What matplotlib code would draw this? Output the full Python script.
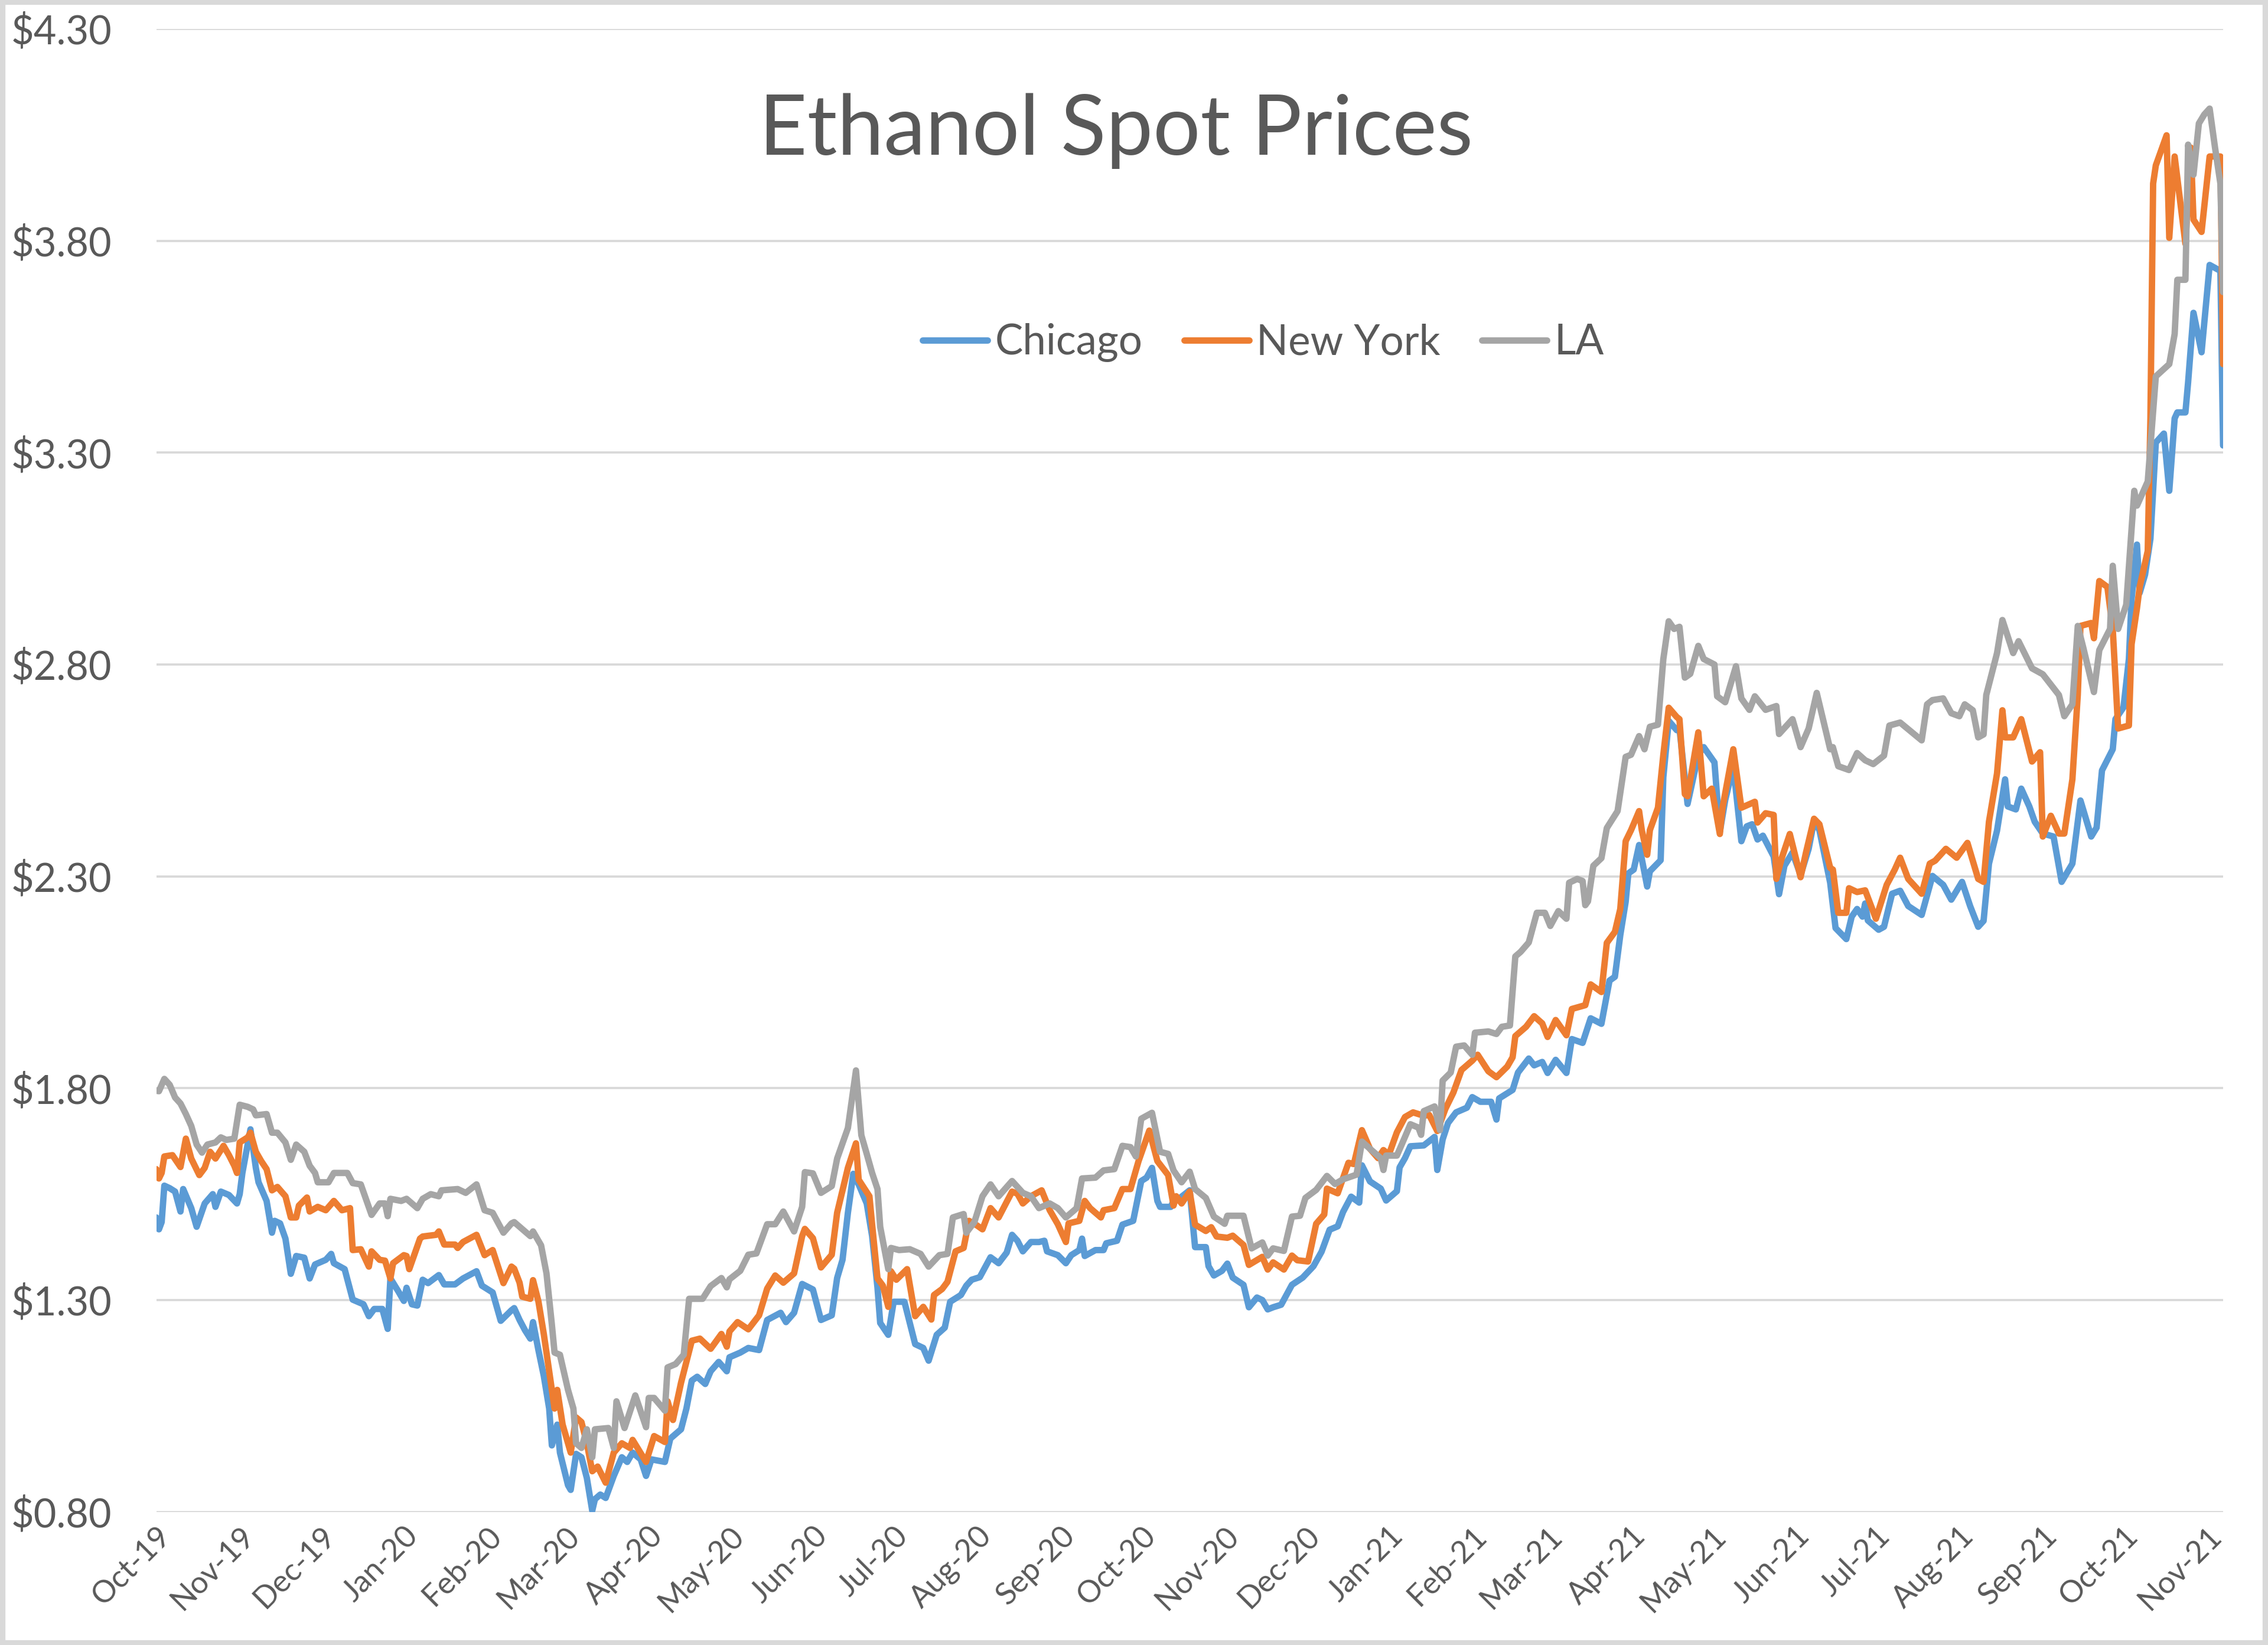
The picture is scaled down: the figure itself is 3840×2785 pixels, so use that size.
import numpy as np
import matplotlib
matplotlib.use("Agg")
import matplotlib.pyplot as plt
import matplotlib.dates as mdates
from matplotlib.patches import Rectangle

plt.rcParams['font.family'] = ['Lato', 'DejaVu Sans']

START = np.datetime64('2019-10-01')

# days after 2019-10-01 and price in $/gal
chicago_days = [0, 1, 2, 3, 5, 7, 9, 10, 13, 15, 18, 21, 22, 24, 27, 30, 31, 32, 35, 37, 38, 41, 43, 44, 46, 48,
                50, 52, 55, 57, 59, 63, 65, 66, 70, 73, 77, 79, 81, 84, 86, 87, 90, 92, 93, 95, 97, 99, 101, 105,
                107, 111, 114, 119, 121, 125, 128, 132,
                133, 135, 137, 139, 140, 142, 144, 146, 147, 149, 150, 153, 154, 156, 158, 160, 162, 163, 165, 167,
                170, 173, 175, 177, 180, 182, 184, 189, 191, 195, 197, 199, 201, 204, 206, 209, 212, 213, 217, 220,
                224, 227, 232, 234, 237, 240, 244, 247, 251, 253,
                255, 257, 259, 261, 264, 266, 268, 269, 272, 274, 278, 282, 285, 287, 290, 293, 295, 299, 301, 303,
                306, 310, 313, 316, 318, 320, 322, 325, 328, 330, 331, 335, 338, 340, 343, 344, 345, 349, 352, 353,
                357, 359, 363, 366, 368, 370, 372, 373, 377, 378, 380, 384,
                386, 390, 391, 393, 396, 398, 400, 404, 406, 409, 411, 413, 415, 418, 422, 426, 430, 433, 436, 439,
                441, 444, 447, 448, 451, 455, 457, 461, 462, 464, 466, 471, 475, 476, 478, 480, 483, 487, 489, 492,
                496, 498, 499, 504, 506, 510, 512, 515,
                517, 520, 524, 526, 530, 533, 537, 540, 542, 544, 546, 547, 549, 551, 554, 555, 559, 560, 562, 565,
                566, 569, 573, 575, 579, 581, 583, 586, 589, 591, 593, 595, 597, 601, 603, 605, 608, 611, 614, 616,
                618, 622, 624, 628, 630, 632, 634, 635, 636,
                640, 642, 645, 648, 651, 656, 660, 664, 667, 671, 674, 677, 679, 681, 684, 687, 688, 691, 693, 696,
                698, 701, 705, 708, 712, 713, 715, 719, 721, 723, 727, 728, 731, 733, 734, 736, 737, 739, 741, 743,
                746, 748, 750, 751, 754, 755, 757, 760, 763, 767, 768]
chicago_price = [1.495, 1.467, 1.484, 1.57, 1.564, 1.556, 1.509, 1.562, 1.517, 1.473, 1.528, 1.55, 1.52, 1.556,
                 1.548, 1.528, 1.55, 1.60, 1.703, 1.612, 1.578, 1.534, 1.459, 1.487, 1.481, 1.445, 1.362, 1.404,
                 1.40, 1.351, 1.384, 1.395, 1.409, 1.387, 1.373, 1.301, 1.29, 1.262, 1.279, 1.279, 1.232, 1.351,
                 1.32, 1.298, 1.329, 1.29, 1.287, 1.348, 1.34, 1.359, 1.337, 1.337, 1.351, 1.368, 1.334, 1.318,
                 1.251, 1.276,
                 1.281, 1.253, 1.229, 1.209, 1.248, 1.182, 1.121, 1.044, 0.957, 1.006, 0.94, 0.863, 0.852, 0.937,
                 0.929, 0.88, 0.803, 0.83, 0.841, 0.833, 0.885, 0.929, 0.918, 0.94, 0.924, 0.885, 0.924, 0.918,
                 0.973, 0.995, 1.044, 1.11, 1.119, 1.102, 1.132, 1.154, 1.132, 1.165, 1.176, 1.187, 1.182, 1.253,
                 1.27, 1.248, 1.27, 1.338, 1.325, 1.253, 1.264, 1.352,
                 1.395, 1.506, 1.598, 1.573, 1.528, 1.451, 1.329, 1.246, 1.218, 1.296, 1.296, 1.196, 1.187, 1.157,
                 1.218, 1.235, 1.296, 1.312, 1.334, 1.348, 1.354, 1.401, 1.387, 1.412, 1.454, 1.44, 1.415, 1.437,
                 1.437, 1.44, 1.415, 1.406, 1.387, 1.406, 1.418, 1.445, 1.404, 1.418, 1.418, 1.434, 1.44, 1.478,
                 1.487, 1.581, 1.589, 1.612, 1.534, 1.52, 1.52, 1.534, 1.539, 1.559,
                 1.425, 1.425, 1.38, 1.358, 1.369, 1.386, 1.353, 1.336, 1.283, 1.306, 1.30, 1.278, 1.283, 1.289,
                 1.336, 1.353, 1.38, 1.414, 1.466, 1.474, 1.508, 1.544, 1.53, 1.618, 1.58, 1.563, 1.535, 1.557,
                 1.613, 1.635, 1.663, 1.665, 1.685, 1.607, 1.679, 1.718, 1.743, 1.754, 1.779, 1.768, 1.768, 1.726,
                 1.776, 1.796, 1.837, 1.87, 1.854, 1.862,
                 1.836, 1.867, 1.836, 1.916, 1.907, 1.965, 1.952, 2.054, 2.063, 2.161, 2.24, 2.307, 2.316, 2.374,
                 2.276, 2.312, 2.338, 2.534, 2.667, 2.645, 2.649, 2.471, 2.587, 2.605, 2.569, 2.405, 2.48, 2.56,
                 2.383, 2.418, 2.423, 2.387, 2.396, 2.347, 2.258, 2.325, 2.356, 2.303, 2.365, 2.431, 2.409, 2.285,
                 2.178, 2.152, 2.205, 2.223, 2.205, 2.236, 2.196,
                 2.174, 2.181, 2.259, 2.266, 2.23, 2.209, 2.301, 2.28, 2.245, 2.287, 2.23, 2.181, 2.195, 2.33,
                 2.408, 2.529, 2.465, 2.458, 2.507, 2.465, 2.429, 2.401, 2.394, 2.287, 2.33, 2.379, 2.479, 2.394,
                 2.415, 2.55, 2.60, 2.671, 2.699, 2.813, 2.955, 3.083, 2.969, 3.012, 3.097, 3.324, 3.345, 3.21,
                 3.381, 3.395, 3.395, 3.466, 3.63, 3.537, 3.743, 3.729, 3.317]

newyork_days = [0, 1, 2, 3, 6, 9, 11, 13, 16, 18, 20, 22, 25, 27, 29, 30, 31, 34, 35, 37, 39, 41, 43, 45, 48, 50,
                52, 53, 56, 57, 60, 63, 66, 69, 72, 73, 76, 79, 80, 83, 85, 87, 88, 92, 93, 94, 98, 99, 104, 105,
                107, 111, 112, 114, 119, 122, 125, 129, 132,
                133, 135, 136, 139, 140, 142, 144, 146, 148, 149, 151, 154, 156, 158, 160, 162, 164, 167, 170, 173,
                176, 177, 182, 185, 189, 190, 192, 195, 199, 202, 206, 210, 212, 213, 216, 220, 224, 227, 230, 233,
                237, 240, 241, 244, 247, 251, 253,
                257, 260, 261, 265, 266, 268, 270, 272, 273, 275, 279, 282, 285, 288, 289, 292, 294, 297, 300, 302,
                305, 307, 310, 313, 318, 320, 322, 325, 329, 332, 335, 338, 339, 343, 345, 347, 351, 352, 356, 359,
                362, 365, 369, 372, 376, 378, 379, 381, 384, 386,
                390, 392, 394, 398, 400, 404, 406, 411, 413, 415, 419, 422, 424, 428, 431, 434, 435, 439, 443, 445,
                448, 451, 454, 456, 458, 461, 464, 467, 471, 473, 476, 479, 482, 485, 489, 491, 495, 498, 502, 504,
                505, 509, 512, 515,
                517, 520, 524, 526, 531, 533, 537, 539, 542, 544, 546, 548, 551, 552, 554, 555, 558, 560, 562, 565,
                566, 568, 569, 573, 575, 578, 581, 582, 586, 589, 594, 595, 598, 601, 602, 604, 607, 611, 613, 616,
                618, 622, 623, 625, 628, 629, 632, 635, 639,
                643, 646, 648, 651, 656, 659, 661, 665, 669, 673, 677, 679, 681, 684, 686, 687, 690, 693, 697, 700,
                701, 704, 707, 709, 712, 714, 715, 719, 720, 722, 725, 727, 729, 733, 734, 736, 737, 740, 741, 742,
                743, 747, 748, 750, 754, 756, 757, 760, 763, 767, 768]
newyork_price = [1.609, 1.587, 1.60, 1.639, 1.642, 1.614, 1.681, 1.634, 1.595, 1.612, 1.65, 1.634, 1.664, 1.642,
                 1.617, 1.60, 1.672, 1.684, 1.695, 1.65, 1.628, 1.609, 1.559, 1.567, 1.545, 1.495, 1.495, 1.523,
                 1.542, 1.509, 1.52, 1.512, 1.534, 1.512, 1.517, 1.418, 1.42, 1.379, 1.415, 1.395, 1.393, 1.351,
                 1.387, 1.406, 1.404, 1.373, 1.445, 1.45, 1.454, 1.462, 1.431, 1.431, 1.423, 1.437, 1.454, 1.406,
                 1.418, 1.34, 1.379,
                 1.374, 1.341, 1.308, 1.303, 1.347, 1.297, 1.22, 1.132, 1.044, 1.088, 1.006, 0.94, 1.023, 1.012,
                 0.962, 0.896, 0.907, 0.869, 0.94, 0.962, 0.951, 0.97, 0.918, 0.979, 0.965, 1.061, 1.017, 1.105,
                 1.204, 1.209, 1.185, 1.22, 1.19, 1.226, 1.248, 1.231, 1.264, 1.327, 1.358, 1.341, 1.363, 1.451,
                 1.468, 1.446, 1.377, 1.407, 1.506,
                 1.612, 1.67, 1.584, 1.545, 1.478, 1.351, 1.334, 1.284, 1.368, 1.348, 1.373, 1.262, 1.284, 1.254,
                 1.312, 1.326, 1.343, 1.415, 1.423, 1.487, 1.476, 1.467, 1.517, 1.495, 1.556, 1.551, 1.528, 1.545,
                 1.559, 1.512, 1.479, 1.437, 1.481, 1.487, 1.534, 1.517, 1.495, 1.512, 1.517, 1.562, 1.562, 1.628,
                 1.70, 1.628, 1.595, 1.523, 1.545, 1.528, 1.556, 1.478,
                 1.463, 1.472, 1.45, 1.447, 1.452, 1.43, 1.383, 1.402, 1.372, 1.389, 1.372, 1.405, 1.394, 1.391,
                 1.48, 1.502, 1.563, 1.552, 1.624, 1.621, 1.701, 1.657, 1.635, 1.654, 1.643, 1.696, 1.732, 1.743,
                 1.735, 1.737, 1.699, 1.751, 1.79, 1.843, 1.865, 1.879, 1.84, 1.826, 1.851, 1.873, 1.923, 1.945,
                 1.97, 1.953,
                 1.921, 1.961, 1.925, 1.987, 1.996, 2.045, 2.027, 2.143, 2.169, 2.223, 2.383, 2.409, 2.454, 2.409,
                 2.351, 2.409, 2.462, 2.587, 2.698, 2.676, 2.671, 2.494, 2.489, 2.64, 2.489, 2.507, 2.40, 2.462,
                 2.60, 2.462, 2.476, 2.427, 2.449, 2.445, 2.294, 2.343, 2.40, 2.298, 2.356, 2.436, 2.423, 2.32,
                 2.316, 2.214, 2.214, 2.272, 2.263, 2.267, 2.20,
                 2.28, 2.316, 2.344, 2.294, 2.259, 2.33, 2.337, 2.365, 2.344, 2.379, 2.294, 2.287, 2.429, 2.543,
                 2.692, 2.628, 2.628, 2.671, 2.571, 2.593, 2.394, 2.443, 2.401, 2.401, 2.529, 2.728, 2.891, 2.898,
                 2.862, 2.997, 2.983, 2.884, 2.649, 2.656, 2.848, 2.933, 2.983, 3.068, 3.381, 3.935, 3.978, 4.049,
                 3.807, 3.999, 3.793, 4.02, 3.85, 3.821, 3.999, 3.999, 3.509]

la_days = [0, 1, 3, 5, 7, 9, 11, 13, 15, 17, 19, 22, 24, 26, 29, 31, 34, 36, 37, 41, 43, 45, 48, 50, 52, 55, 57,
           59, 60, 64, 66, 71, 73, 76, 80, 83, 85, 86, 87, 91, 93, 97, 99, 102, 105, 106, 112, 115, 119, 122, 125,
           129, 132,
           133, 135, 137, 139, 140, 143, 145, 147, 148, 150, 153, 155, 156, 158, 160, 162, 163, 168, 170, 171, 174,
           178, 182, 183, 185, 189, 190, 193, 196, 198, 203, 206, 210, 212, 213, 217, 220, 223, 227, 230, 233, 237,
           240, 241, 244, 247, 251,
           253, 257, 260, 262, 264, 266, 268, 269, 272, 273, 276, 280, 284, 287, 291, 294, 296, 300, 301, 304, 307,
           310, 313, 318, 322, 325, 328, 332, 335, 338, 342, 344, 349, 352, 356, 359, 362, 364, 366, 370, 373, 376,
           378, 381, 384, 386,
           390, 393, 397, 398, 404, 407, 411, 413, 415, 419, 422, 425, 427, 431, 435, 438, 441, 446, 448, 451, 455,
           456, 457, 461, 464, 466, 469, 470, 471, 475, 477, 478, 481, 483, 486, 489, 490, 495, 498, 500, 503, 505,
           507, 510,
           513, 516, 518, 521, 524, 525, 528, 530, 531, 532, 534, 537, 539, 543, 546, 548, 551, 553, 555, 558, 560,
           562, 564, 566, 568, 570, 573, 575, 579, 580, 583, 587, 589, 592, 594, 598, 602, 603, 608, 611, 614, 617,
           622, 623, 625, 629, 632, 635, 638,
           642, 644, 648, 652, 656, 658, 660, 664, 667, 670, 672, 675, 677, 679, 680, 684, 686, 690, 692, 697, 701,
           707, 709, 712, 714, 716, 720, 722, 726, 727, 729, 732, 735, 736, 740, 743, 748, 750, 751, 754, 755, 757,
           759, 761, 763, 765, 767, 768]
la_price = [1.794, 1.793, 1.822, 1.808, 1.778, 1.764, 1.739, 1.711, 1.667, 1.648, 1.667, 1.672, 1.684, 1.678, 1.681,
            1.761, 1.756, 1.75, 1.736, 1.739, 1.695, 1.695, 1.672, 1.631, 1.667, 1.65, 1.617, 1.60, 1.578, 1.578,
            1.60, 1.60, 1.576, 1.573, 1.501, 1.528, 1.528, 1.498, 1.539, 1.534, 1.539, 1.517, 1.539, 1.55, 1.545,
            1.559, 1.562, 1.553, 1.573, 1.512, 1.506, 1.459, 1.481,
            1.484, 1.473, 1.462, 1.451, 1.462, 1.429, 1.363, 1.242, 1.176, 1.171, 1.088, 1.044, 0.962, 0.951, 0.995,
            0.929, 0.995, 0.998, 0.951, 1.061, 0.998, 1.075, 1.0, 1.069, 1.069, 1.039, 1.141, 1.149, 1.171, 1.303,
            1.303, 1.333, 1.352, 1.33, 1.349, 1.369, 1.407, 1.41, 1.479, 1.479, 1.509, 1.462, 1.52, 1.602, 1.599,
            1.553, 1.569,
            1.634, 1.706, 1.842, 1.689, 1.645, 1.60, 1.562, 1.473, 1.373, 1.423, 1.418, 1.42, 1.409, 1.379, 1.406,
            1.409, 1.495, 1.503, 1.459, 1.484, 1.545, 1.573, 1.545, 1.581, 1.553, 1.545, 1.517, 1.528, 1.517, 1.495,
            1.517, 1.587, 1.589, 1.606, 1.609, 1.664, 1.661, 1.639, 1.728, 1.742, 1.65, 1.645, 1.606, 1.578, 1.603,
            1.562,
            1.541, 1.497, 1.48, 1.499, 1.499, 1.422, 1.436, 1.405, 1.422, 1.416, 1.497, 1.499, 1.541, 1.56, 1.593,
            1.574, 1.585, 1.596, 1.674, 1.657, 1.635, 1.607, 1.641, 1.641, 1.685, 1.715, 1.707, 1.69, 1.746, 1.757,
            1.701, 1.818, 1.837, 1.898, 1.901, 1.879, 1.931, 1.934, 1.928, 1.945, 1.948, 2.111, 2.122, 2.144,
            2.214, 2.214, 2.183, 2.218, 2.20, 2.285, 2.294, 2.289, 2.232, 2.241, 2.325, 2.343, 2.414, 2.454, 2.582,
            2.587, 2.631, 2.60, 2.653, 2.658, 2.813, 2.902, 2.884, 2.889, 2.769, 2.778, 2.844, 2.813, 2.80, 2.725,
            2.711, 2.796, 2.72, 2.693, 2.725, 2.693, 2.702, 2.636, 2.671, 2.605, 2.649, 2.733, 2.60, 2.605, 2.56,
            2.551, 2.591, 2.574, 2.565,
            2.585, 2.656, 2.663, 2.642, 2.621, 2.706, 2.716, 2.72, 2.685, 2.678, 2.706, 2.692, 2.628, 2.635, 2.728,
            2.827, 2.905, 2.827, 2.855, 2.791, 2.777, 2.728, 2.678, 2.706, 2.891, 2.841, 2.735, 2.834, 2.884, 3.033,
            2.884, 2.941, 3.21, 3.175, 3.232, 3.48, 3.509, 3.58, 3.708, 3.708, 4.027, 3.956, 4.077, 4.098, 4.112,
            4.02, 3.935, 3.679]

series_names = ["Chicago", "New York", "LA"]
series_colors = ["#5B9BD5", "#ED7D31", "#A5A5A5"]
y_ticks = [0.80, 1.30, 1.80, 2.30, 2.80, 3.30, 3.80, 4.30]


def to_dates(days):
    return START + np.array(days).astype('timedelta64[D]')


fig = plt.figure(figsize=(12.8, 2785 / 300), dpi=300)
ax = fig.add_axes([0.0689, 0.0809, 0.9113, 0.9015])

all_series = [(chicago_days, chicago_price), (newyork_days, newyork_price), (la_days, la_price)]
for (days, price), name, color in zip(all_series, series_names, series_colors):
    ax.plot(to_dates(days), price, color=color, lw=2.6, label=name,
            solid_joinstyle='round', solid_capstyle='round')

ax.set_ylim(0.80, 4.30)
ax.set_yticks(y_ticks)
ax.set_yticklabels([f"${v:.2f}" for v in y_ticks])
ax.set_xlim(to_dates([0])[0], to_dates([chicago_days[-1]])[0])

ax.xaxis.set_major_locator(mdates.MonthLocator())
ax.xaxis.set_major_formatter(mdates.DateFormatter('%b-%y'))

ax.grid(axis='y', color='#D9D9D9', lw=0.9)
ax.set_axisbelow(True)
for s in ax.spines.values():
    s.set_visible(False)

ax.tick_params(axis='y', length=0, pad=18, labelsize=16, labelcolor='#595959')
ax.tick_params(axis='x', length=0, pad=4, labelsize=12.5, labelcolor='#595959')
for lbl in ax.get_xticklabels():
    lbl.set_rotation(45)
    lbl.set_ha('right')
    lbl.set_va('top')
    lbl.set_rotation_mode('anchor')

fig.text(0.492, 0.9205, "Ethanol Spot Prices", ha='center', va='center',
         fontsize=34, color='#595959')

leg = fig.legend(loc='center', bbox_to_anchor=(0.557, 0.7916), ncol=3, frameon=False,
                 fontsize=17, handlelength=1.55, handletextpad=0.17, columnspacing=1.0)
for t in leg.get_texts():
    t.set_color('#595959')

# light border round the chart area
fig.patches.append(Rectangle((0.001, 0.001), 0.998, 0.998, transform=fig.transFigure,
                             fill=False, edgecolor='#D9D9D9', lw=2.5))

fig.savefig("out.png", dpi=300, facecolor='white')
